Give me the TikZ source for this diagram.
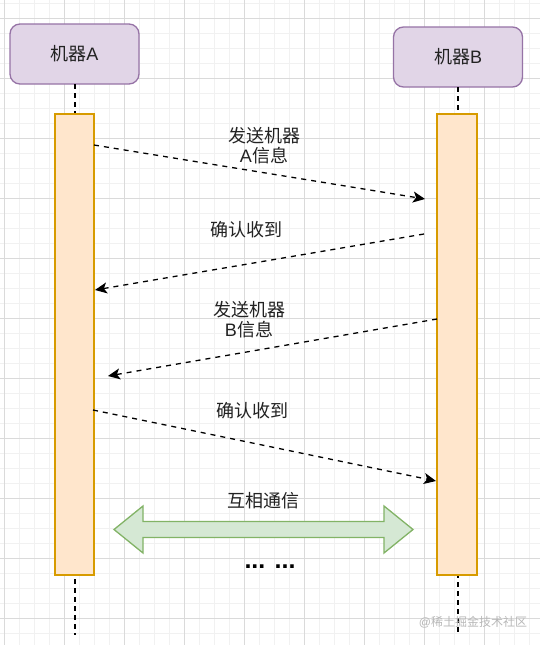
\documentclass[tikz,border=0pt]{standalone}
\usepackage{fontspec}
\setmainfont{Liberation Sans}
\newfontfamily\cjk{Noto Sans CJK SC}
\usetikzlibrary{arrows.meta}
\definecolor{gridminor}{HTML}{F1F1F1}
\definecolor{gridmajor}{HTML}{DADADA}
\definecolor{purpfill}{HTML}{E1D5E7}
\definecolor{purpline}{HTML}{9673A6}
\definecolor{orfill}{HTML}{FFE6CC}
\definecolor{orline}{HTML}{D79B00}
\definecolor{grfill}{HTML}{D5E8D4}
\definecolor{grline}{HTML}{82B366}
\definecolor{txt}{HTML}{222222}
\definecolor{wm}{HTML}{B8B8B8}
\begin{document}
\begin{tikzpicture}[x=1pt,y=-1pt,
  machine/.style={draw=purpline,fill=purpfill,line width=1.3pt,rounded corners=10pt,
    minimum width=129pt,minimum height=60pt,text=txt,font=\fontsize{18pt}{20pt}\selectfont},
  actbar/.style={draw=orline,fill=orfill,line width=1.3pt,minimum width=39pt,minimum height=461pt,inner sep=0pt},
  life/.style={draw=black,line width=1.5pt,dash pattern=on 5pt off 4pt},
  msg/.style={draw=black,line width=1.3pt,dash pattern=on 5pt off 5pt,
    -{Stealth[length=12pt,width=11pt,inset=3pt]}},
  lbl/.style={text=txt,align=center,font=\fontsize{18pt}{20pt}\selectfont\cjk,inner sep=0pt}
]
\useasboundingbox (0,0) rectangle (540,645);
\fill[white] (0,0) rectangle (540,645);
% grid
\foreach \i in {0,...,36} {\draw[gridminor,line width=0.8pt] ({4+15*\i},0) -- ({4+15*\i},645);}
\foreach \i in {0,...,43} {\draw[gridminor,line width=0.8pt] (0,{3+15*\i}) -- (540,{3+15*\i});}
\foreach \i in {0,...,9} {\draw[gridmajor,line width=0.8pt] ({4+60*\i},0) -- ({4+60*\i},645);}
\foreach \i in {0,...,10} {\draw[gridmajor,line width=0.8pt] (0,{18+60*\i}) -- (540,{18+60*\i});}

% machines
\node[machine] (ma) at (74.5,54) {{\cjk 机器}A};
\node[machine] (mb) at (458,57) {{\cjk 机器}B};

% lifelines
\coordinate (endA) at (75,635);
\coordinate (endB) at (458,635);
\coordinate (topA) at (75,84);
\coordinate (topB) at (458,87);
\draw[life] (topA) -- (endA);
\draw[life] (topB) -- (endB);

% activation bars
\node[actbar] (barA) at (74.5,344.5) {};
\node[actbar,minimum width=40pt] (barB) at (457,344.5) {};

% messages
\coordinate (m1s) at (94,145);  \coordinate (m1e) at (425,199);
\coordinate (m2s) at (424,234); \coordinate (m2e) at (95,290);
\coordinate (m3s) at (437,319); \coordinate (m3e) at (108,376);
\coordinate (m4s) at (93,410);  \coordinate (m4e) at (436,481);
\draw[msg] (m1s) -- (m1e);
\draw[msg] (m2s) -- (m2e);
\draw[msg] (m3s) -- (m3e);
\draw[msg] (m4s) -- (m4e);

\node[lbl] (l1) at (264,146) {发送机器\\{\rmfamily A}信息};
\node[lbl] (l2) at (246,230) {确认收到};
\node[lbl] (l3) at (249,320) {发送机器\\{\rmfamily B}信息};
\node[lbl] (l4) at (252,411) {确认收到};

% double arrow
\draw[draw=grline,fill=grfill,line width=1.3pt,line join=miter]
  (114,529.5) -- (143,506) -- (143,521.5) -- (384,521.5) -- (384,506) -- (413,529.5)
  -- (384,553) -- (384,537.5) -- (143,537.5) -- (143,553) -- cycle;
\node[lbl] (l5) at (263.5,501) {互相通信};
\node[text=black,font=\fontsize{25pt}{26pt}\selectfont\bfseries,inner sep=0pt] (dots) at (270,567) {... ...};

% watermark
\node[text=wm,font=\fontsize{12pt}{14pt}\selectfont,inner sep=0pt] (wmark) at (473,622) {@{\cjk 稀土掘金技术社区}};
\end{tikzpicture}
\end{document}
